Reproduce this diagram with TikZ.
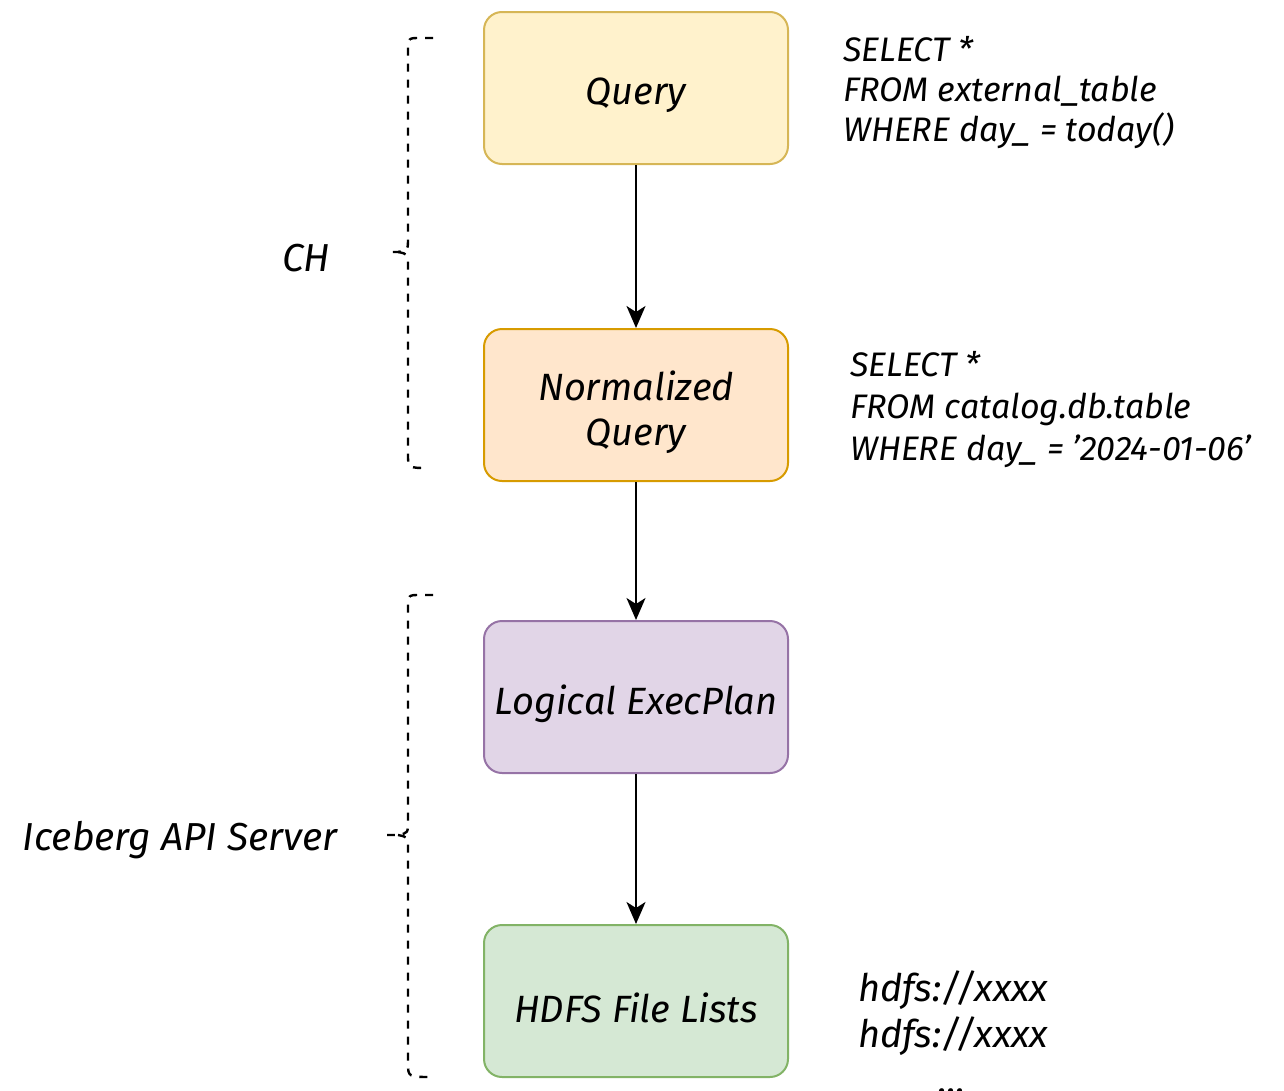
\documentclass[tikz,border=0pt]{standalone}
\usepackage{fontspec}
\setmainfont{Fira Sans}
\usetikzlibrary{arrows.meta}
\definecolor{qfill}{HTML}{FFF2CC}\definecolor{qline}{HTML}{D6B656}
\definecolor{nfill}{HTML}{FFE6CC}\definecolor{nline}{HTML}{D79B00}
\definecolor{lfill}{HTML}{E1D5E7}\definecolor{lline}{HTML}{9673A6}
\definecolor{hfill}{HTML}{D5E8D4}\definecolor{hline}{HTML}{82B366}
\begin{document}
\begin{tikzpicture}[x=1pt,y=-1pt,
  stage/.style={draw,line width=2pt,rounded corners=18pt,minimum width=304pt,
    minimum height=152pt,inner sep=0pt},
  stagetext/.style={align=center,inner sep=0pt,yshift=-7pt,
    font=\fontsize{38}{45}\selectfont\itshape},
  flow/.style={line width=2pt,-{Stealth[length=22pt,width=19pt,inset=6pt]}},
  brace/.style={line width=2.4pt,dash pattern=on 8pt off 8pt},
  note/.style={anchor=north west,align=left,inner sep=0pt},
  side/.style={font=\fontsize{39}{44}\selectfont\itshape}]
\useasboundingbox (0,0) rectangle (1284,1090);
\clip (0,0) rectangle (1284,1090);

\node[stage,fill=qfill,draw=qline,label={[stagetext]center:Query}] (q) at (636,88) {};
\node[stage,fill=nfill,draw=nline,label={[stagetext]center:Normalized\\Query}] (n) at (636,405) {};
\node[stage,fill=lfill,draw=lline,label={[stagetext]center:Logical ExecPlan}] (l) at (636,697) {};
\node[stage,fill=hfill,draw=hline,label={[stagetext]center:HDFS File Lists}] (h) at (636,1001) {};

\draw[flow] (q) -- (n);
\draw[flow] (n) -- (l);
\draw[flow] (l) -- (h);

\node[note,font=\fontsize{34}{40}\selectfont\itshape] (qt) at (843,36)
  {SELECT *\\FROM external\_table\\WHERE day\_ = today()};
\node[note,font=\fontsize{34}{42}\selectfont\itshape] (nt) at (850,351)
  {SELECT *\\FROM catalog.db.table\\WHERE day\_ = '2024-01-06'};
\node[note,font=\fontsize{38}{46}\selectfont\itshape] (ht) at (858,971)
  {hdfs://xxxx\\hdfs://xxxx\\\hspace*{80pt}...};

% braces grouping the stages
\coordinate (b1t) at (433,38);
\coordinate (b1b) at (429,468);
\coordinate (b1m) at (385,252);
\draw[brace] (b1t) -- (420,38) .. controls (408,38) .. (408,52) -- (408,238)
  .. controls (408,250) .. (398,252) -- (b1m);
\draw[brace] (398,252) .. controls (408,254) .. (408,266) -- (408,454)
  .. controls (408,468) .. (b1b);
\node[side] (ch) at (306,258) {CH};

\coordinate (b2t) at (433,595);
\coordinate (b2b) at (433,1077);
\coordinate (b2m) at (387,835);
\draw[brace] (b2t) -- (420,595) .. controls (408,595) .. (408,609) -- (408,821)
  .. controls (408,833) .. (398,835) -- (b2m);
\draw[brace] (398,835) .. controls (408,837) .. (408,849) -- (408,1063)
  .. controls (408,1077) .. (b2b);
\node[side] (ice) at (180,840) {Iceberg API Server};
\end{tikzpicture}
\end{document}
